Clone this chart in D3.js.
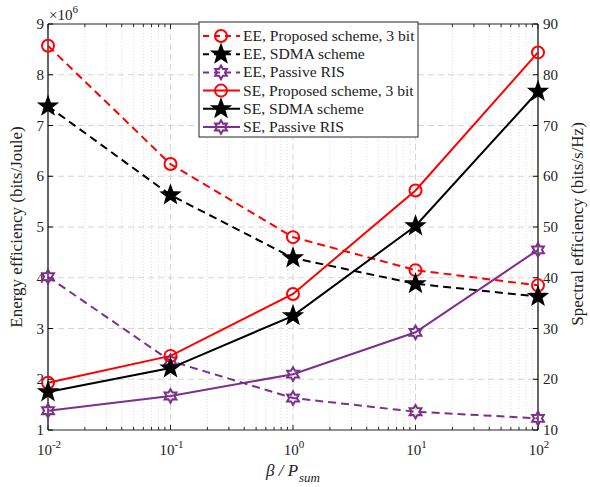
<!DOCTYPE html>
<html>
<head>
<meta charset="utf-8">
<script src="https://cdn.jsdelivr.net/npm/d3@7"></script>
<style>
  html, body { margin: 0; padding: 0; background: #fff; }
  svg text { font-family: "Liberation Serif", "Times New Roman", serif; fill: #222; }
</style>
</head>
<body>
<svg id="chart" width="590" height="487"></svg>
<script>
// x values: beta / P_sum
const betaValues = [0.01, 0.1, 1, 10, 100];
const xTickValues = [0.01, 0.1, 1, 10, 100];
const xTickExponents = ["-2", "-1", "0", "1", "2"];

// Energy efficiency (x 10^6 bits/Joule), left axis
const eeProposed = [8.57, 6.24, 4.80, 4.15, 3.85];
const eeSdma     = [7.38, 5.63, 4.39, 3.88, 3.63];
const eePassive  = [4.02, 2.36, 1.63, 1.36, 1.23];

// Spectral efficiency (bits/s/Hz), right axis
const seProposed = [19.3, 24.6, 36.8, 57.2, 84.4];
const seSdma     = [17.5, 22.2, 32.5, 50.2, 76.7];
const sePassive  = [13.8, 16.7, 21.0, 29.25, 45.5];

const leftTicks = [1, 2, 3, 4, 5, 6, 7, 8, 9];
const rightTicks = [10, 20, 30, 40, 50, 60, 70, 80, 90];

const legendLabels = [
  "EE, Proposed scheme, 3 bit",
  "EE, SDMA scheme",
  "EE, Passive RIS",
  "SE, Proposed scheme, 3 bit",
  "SE, SDMA scheme",
  "SE, Passive RIS"
];

const RED = "#ff0000", BLACK = "#000000", PURPLE = "#7e2f8e";

const svg = d3.select("#chart");
const m = { left: 48, right: 538, top: 24, bottom: 430 };

const x = d3.scaleLog().domain([0.01, 100]).range([m.left, m.right]);
const yL = d3.scaleLinear().domain([1, 9]).range([m.bottom, m.top]);
const yR = d3.scaleLinear().domain([10, 90]).range([m.bottom, m.top]);

// grid: minor x (dotted), major x and y (dashed)
const minorX = [];
for (let e = -2; e < 2; e++) for (let k = 2; k <= 9; k++) minorX.push(k * Math.pow(10, e));
const grid = svg.append("g");
grid.selectAll(".gmx").data(minorX).enter().append("line")
  .attr("x1", d => x(d)).attr("x2", d => x(d)).attr("y1", m.top).attr("y2", m.bottom)
  .attr("stroke", "#d6d6d6").attr("stroke-width", 0.8).attr("stroke-dasharray", "1,2");
grid.selectAll(".gMx").data(xTickValues.slice(1, -1)).enter().append("line")
  .attr("x1", d => x(d)).attr("x2", d => x(d)).attr("y1", m.top).attr("y2", m.bottom)
  .attr("stroke", "#d4d4d4").attr("stroke-width", 1).attr("stroke-dasharray", "6,4");
grid.selectAll(".gy").data(leftTicks.slice(1, -1)).enter().append("line")
  .attr("x1", m.left).attr("x2", m.right).attr("y1", d => yL(d)).attr("y2", d => yL(d))
  .attr("stroke", "#d4d4d4").attr("stroke-width", 1).attr("stroke-dasharray", "6,4");

// axes box
const ax = svg.append("g").attr("stroke", "#262626").attr("stroke-width", 1);
ax.append("line").attr("x1", m.left).attr("x2", m.right).attr("y1", m.top).attr("y2", m.top);
ax.append("line").attr("x1", m.left).attr("x2", m.right).attr("y1", m.bottom).attr("y2", m.bottom);
ax.append("line").attr("x1", m.left).attr("x2", m.left).attr("y1", m.top).attr("y2", m.bottom).attr("stroke", "#000").attr("stroke-width", 1.2);
ax.append("line").attr("x1", m.right).attr("x2", m.right).attr("y1", m.top).attr("y2", m.bottom).attr("stroke", "#000").attr("stroke-width", 1.2);

// x ticks (inside, top and bottom)
minorX.forEach(d => {
  ax.append("line").attr("x1", x(d)).attr("x2", x(d)).attr("y1", m.bottom).attr("y2", m.bottom - 3);
  ax.append("line").attr("x1", x(d)).attr("x2", x(d)).attr("y1", m.top).attr("y2", m.top + 3);
});
xTickValues.forEach(d => {
  ax.append("line").attr("x1", x(d)).attr("x2", x(d)).attr("y1", m.bottom).attr("y2", m.bottom - 5);
  ax.append("line").attr("x1", x(d)).attr("x2", x(d)).attr("y1", m.top).attr("y2", m.top + 5);
});
// y ticks
leftTicks.forEach(d => {
  ax.append("line").attr("x1", m.left).attr("x2", m.left + 5).attr("y1", yL(d)).attr("y2", yL(d)).attr("stroke", "#000");
});
rightTicks.forEach(d => {
  ax.append("line").attr("x1", m.right).attr("x2", m.right - 5).attr("y1", yR(d)).attr("y2", yR(d)).attr("stroke", "#000");
});

const FS = 15;
// x tick labels 10^n
xTickValues.forEach((d, i) => {
  const t = svg.append("text").attr("x", x(d) + 1).attr("y", 455).attr("text-anchor", "middle")
    .attr("font-size", FS);
  t.append("tspan").text("10");
  t.append("tspan").attr("dy", -7).attr("font-size", 11).text(xTickExponents[i]);
});
// left tick labels
svg.selectAll(".lt").data(leftTicks).enter().append("text")
  .attr("x", m.left - 4).attr("y", d => yL(d) + 5).attr("text-anchor", "end")
  .attr("font-size", FS).text(d => d);
// right tick labels
svg.selectAll(".rt").data(rightTicks).enter().append("text")
  .attr("x", m.right + 5).attr("y", d => yR(d) + 5).attr("text-anchor", "start")
  .attr("font-size", FS).text(d => d);

// exponent multiplier
const mult = svg.append("text").attr("x", m.left + 1).attr("y", 20).attr("font-size", FS);
mult.append("tspan").text("\u00d710");
mult.append("tspan").attr("dy", -7).attr("font-size", 11).text("6");

// axis titles
const TFS = 17;
svg.append("text").attr("transform", `translate(22,${(m.top + m.bottom) / 2}) rotate(-90)`)
  .attr("text-anchor", "middle").attr("font-size", TFS).text("Energy efficiency (bits/Joule)");
svg.append("text").attr("transform", `translate(583,${(m.top + m.bottom) / 2 - 3}) rotate(-90)`)
  .attr("text-anchor", "middle").attr("font-size", TFS).text("Spectral efficiency (bits/s/Hz)");
const xl = svg.append("text").attr("x", 293).attr("y", 476).attr("text-anchor", "middle")
  .attr("font-size", TFS).attr("font-style", "italic");
xl.append("tspan").text("\u03b2 / P");
xl.append("tspan").attr("dy", 6).attr("dx", 1).attr("font-size", 13).text("sum");

// marker shapes
function starPath(n, ro, ri) {
  const p = d3.path();
  for (let i = 0; i < 2 * n; i++) {
    const r = i % 2 === 0 ? ro : ri;
    const a = -Math.PI / 2 + i * Math.PI / n;
    const px = r * Math.cos(a), py = r * Math.sin(a);
    if (i === 0) p.moveTo(px, py); else p.lineTo(px, py);
  }
  p.closePath();
  return p.toString();
}
const markers = {
  circle: { d: d3.symbol(d3.symbolCircle, Math.PI * 36)(), fill: "none" },
  pent: { d: starPath(5, 8.8, 3.6), fill: "filled" },
  hex: { d: starPath(6, 6.8, 3.9), fill: "none" }
};

const series = [
  { data: eeProposed, y: yL, color: RED, dash: "8,5", marker: "circle" },
  { data: eeSdma, y: yL, color: BLACK, dash: "8,5", marker: "pent" },
  { data: eePassive, y: yL, color: PURPLE, dash: "8,5", marker: "hex" },
  { data: seProposed, y: yR, color: RED, dash: null, marker: "circle" },
  { data: seSdma, y: yR, color: BLACK, dash: null, marker: "pent" },
  { data: sePassive, y: yR, color: PURPLE, dash: null, marker: "hex" }
];

function drawMarker(g, type, color, cx, cy) {
  const mk = markers[type];
  g.append("path").attr("d", mk.d).attr("transform", `translate(${cx},${cy})`)
    .attr("fill", mk.fill === "filled" ? color : "none")
    .attr("stroke", color).attr("stroke-width", 2).attr("stroke-linejoin", "miter");
}

const plot = svg.append("g");
series.forEach(s => {
  const line = d3.line().x((d, i) => x(betaValues[i])).y(d => s.y(d));
  plot.append("path").attr("d", line(s.data)).attr("fill", "none")
    .attr("stroke", s.color).attr("stroke-width", 2)
    .attr("stroke-dasharray", s.dash);
  s.data.forEach((d, i) => drawMarker(plot, s.marker, s.color, x(betaValues[i]), s.y(d)));
});

// legend
const lg = svg.append("g");
lg.append("rect").attr("x", 199).attr("y", 22).attr("width", 219).attr("height", 115)
  .attr("fill", "#fff").attr("stroke", "#262626").attr("stroke-width", 1);
series.forEach((s, i) => {
  const cy = 36 + i * 18.2;
  lg.append("line").attr("x1", 203).attr("x2", 240).attr("y1", cy).attr("y2", cy)
    .attr("stroke", s.color).attr("stroke-width", 2).attr("stroke-dasharray", s.dash ? "6,5" : null);
  drawMarker(lg, s.marker, s.color, 221, cy);
  lg.append("text").attr("x", 243).attr("y", cy + 5).attr("font-size", 15.6).text(legendLabels[i]);
});
</script>
</body>
</html>
